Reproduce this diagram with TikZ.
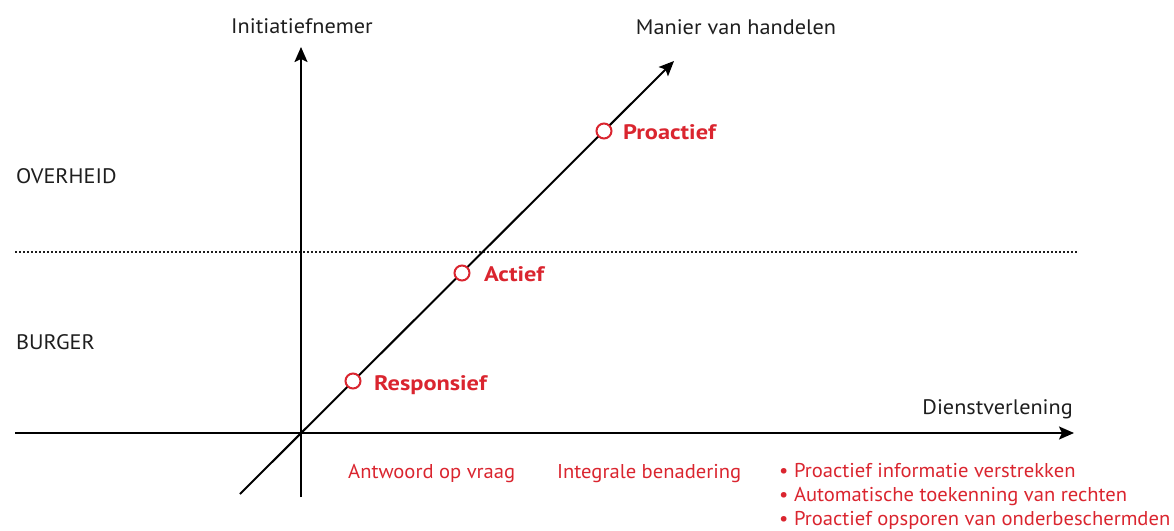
\documentclass[tikz,border=0pt]{standalone}
\usepackage{fontspec}
\setmainfont{PT Sans}
\newfontfamily\blackfont[FakeStretch=1.06]{PT Sans}
\newfontfamily\redfont[FakeStretch=1.16]{PT Sans Bold}
\newfontfamily\botfont[FakeStretch=1.03]{PT Sans}
\usetikzlibrary{arrows.meta}
\definecolor{rred}{RGB}{218,37,47}
\definecolor{ink}{RGB}{30,30,30}
\begin{document}
\begin{tikzpicture}[x=1pt,y=-1pt,
  axis/.style={line width=2pt,-{Stealth[length=15pt,width=13pt,inset=3pt]}},
  dot/.style={circle,draw=rred,line width=2pt,fill=white,minimum size=15pt,inner sep=0pt},
  lbl/.style={font=\blackfont\fontsize{21}{24}\selectfont,text=ink,inner sep=0pt},
  rlbl/.style={font=\redfont\fontsize{21}{24}\selectfont,text=rred,inner sep=0pt,anchor=base west},
  bot/.style={font=\botfont\fontsize{20}{24}\selectfont,text=rred,inner sep=0pt,anchor=base west}]
\useasboundingbox (0,0) rectangle (1174,530);
\coordinate (vb) at (301,497);
\coordinate (vt) at (301,47);
\coordinate (hl) at (15,433);
\coordinate (hr) at (1074,433);
\coordinate (db) at (240,494);
\coordinate (dt) at (674,61);
\coordinate (ml) at (15,252);
\coordinate (mr) at (1077,252);
\draw[line width=2pt,dash pattern=on 1.5pt off 2.5pt,ink] (ml) -- (mr);
\draw[axis] (vb) -- (vt);
\draw[axis] (hl) -- (hr);
\draw[axis] (db) -- (dt);
\node[dot] (r) at (353,381) {};
\node[dot] (a) at (462,273) {};
\node[dot] (p) at (604,131) {};
\node[rlbl] (rt) at (374,390) {Responsief};
\node[rlbl] (at) at (484,281) {Actief};
\node[rlbl] (pt) at (623,139) {Proactief};
\node[lbl,anchor=base] (ini) at (302,33) {Initiatiefnemer};
\node[lbl,anchor=base] (man) at (736,34) {Manier van handelen};
\node[lbl,anchor=base east] (dv) at (1073,414) {Dienstverlening};
\node[lbl,anchor=base west] (ov) at (16,183) {OVERHEID};
\node[lbl,anchor=base west] (bu) at (16,349) {BURGER};
\node[bot] (b1) at (348,478) {Antwoord op vraag};
\node[bot] (b2) at (557,478) {Integrale benadering};
\node[bot] (b3) at (779,477) {• Proactief informatie verstrekken};
\node[bot] (b4) at (779,501) {• Automatische toekenning van rechten};
\node[bot] (b5) at (779,525) {• Proactief opsporen van onderbeschermden};
\end{tikzpicture}
\end{document}
